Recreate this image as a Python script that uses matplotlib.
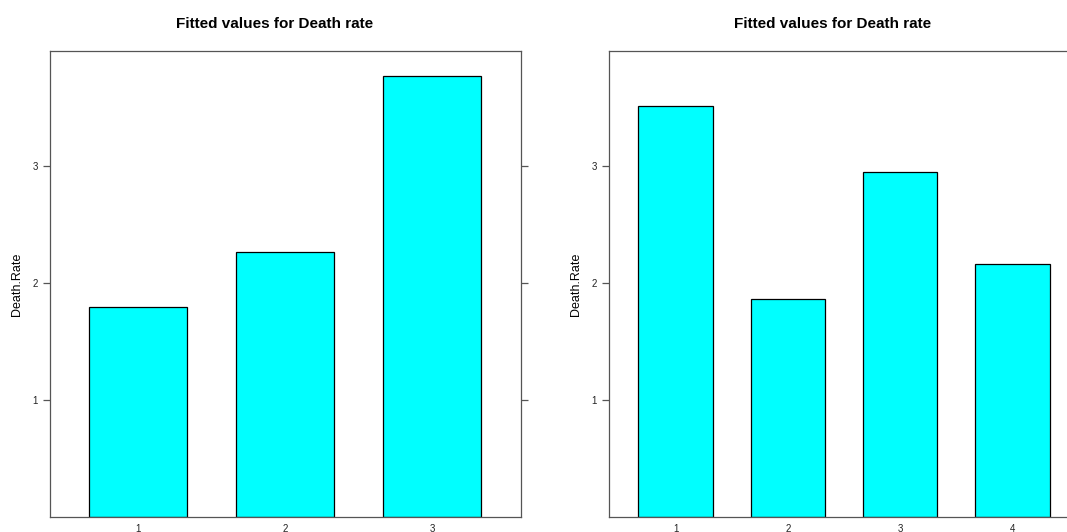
import matplotlib
matplotlib.use("Agg")
import matplotlib.pyplot as plt

# fitted death rates
left_levels = ["1", "2", "3"]
left_values = [1.795, 2.268, 3.77]
right_levels = ["1", "2", "3", "4"]
right_values = [3.511, 1.859, 2.943, 2.160]
y_ticks = [1, 2, 3]
title = "Fitted values for Death rate"
ylabel = "Death.Rate"

plt.rcParams["font.family"] = ["Liberation Sans", "DejaVu Sans"]

fig = plt.figure(figsize=(10.67, 5.32), dpi=100)

frame_col = "#555555"


def panel(rect, levels, values):
    ax = fig.add_axes(rect)
    xs = list(range(1, len(levels) + 1))
    ax.bar(xs, values, width=0.667, color="#00FFFF", edgecolor="black",
           linewidth=0.9)
    ax.set_xlim(0.4, len(levels) + 0.6)
    ax.set_ylim(0, 3.98)
    ax.set_xticks(xs)
    ax.set_xticklabels(levels)
    ax.set_yticks(y_ticks)
    ax.tick_params(axis="x", length=0, pad=5, labelsize=7, colors="#222222")
    ax.tick_params(axis="y", direction="out", length=5, width=0.9,
                   color=frame_col, labelsize=7, labelcolor="#222222",
                   pad=3.5, right=True, labelright=False)
    for s in ax.spines.values():
        s.set_color(frame_col)
        s.set_linewidth(0.9)
    ax.set_ylabel(ylabel, fontsize=9, va="center")
    ax.yaxis.set_label_coords(-0.07, 0.5)
    return ax


w = 471 / 1067
h = (517.3 - 51) / 532
y0 = 1 - 517.3 / 532
panel([49.7 / 1067, y0, w, h], left_levels, left_values)
panel([608.5 / 1067, y0, w, h], right_levels, right_values)

fig.text(274.3 / 1067, 1 - 24 / 532, title, ha="center", va="center",
         fontsize=11, fontweight="bold")
fig.text(833 / 1067, 1 - 24 / 532, title, ha="center", va="center",
         fontsize=11, fontweight="bold")

fig.savefig("out.png", dpi=100)
